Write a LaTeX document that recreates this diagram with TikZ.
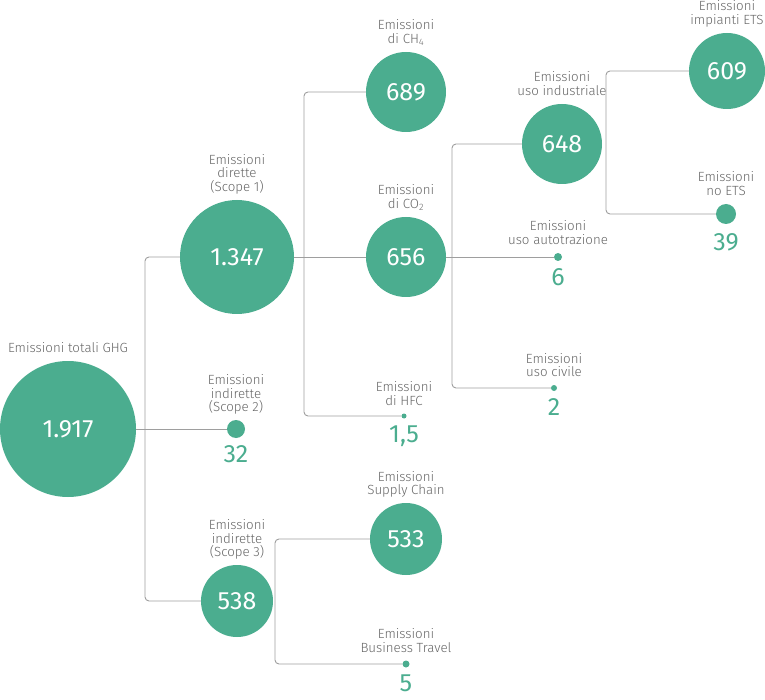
\documentclass[tikz,border=0pt]{standalone}
\usepackage{fontspec}
\setmainfont{Fira Sans Light}
\newfontfamily\valfont{Fira Sans}
\usepackage{tikz}
\usetikzlibrary{positioning}
\definecolor{emgreen}{HTML}{4BAD8F}
\definecolor{emtext}{HTML}{666666}
\definecolor{emline}{HTML}{9E9E9E}

\begin{document}
\begin{tikzpicture}[x=1pt,y=-1pt,
        circ/.style={circle,fill=emgreen,text=white,inner sep=0pt,font=\valfont\fontsize{25}{25}\selectfont},
        dot/.style={circle,fill=emgreen,inner sep=0pt},
        lab/.style={align=center,text=emtext,inner sep=1pt,text depth=3pt,font=\fontsize{13.3}{13.6}\selectfont},
        val/.style={text=emgreen,inner sep=0pt,font=\valfont\fontsize{25}{25}\selectfont},
        link/.style={draw=emline,line width=0.9pt,rounded corners=4pt}
        ]
        \useasboundingbox (0,0) rectangle (765,700);

        % circles and dots
        \node[circ,minimum size=136pt] (tot)   at (68,429)  {1.917};
        \node[circ,minimum size=114pt] (dir)   at (237,257) {1.347};
        \node[dot,minimum size=18pt]   (s2)    at (236,429) {};
        \node[circ,minimum size=72pt]  (s3)    at (237,601) {538};
        \node[circ,minimum size=80pt]  (ch4)   at (406,92)  {689};
        \node[circ,minimum size=80pt]  (co2)   at (406,257) {656};
        \node[dot,minimum size=5pt]    (hfc)   at (404,416) {};
        \node[circ,minimum size=80pt]  (ind)   at (562,144) {648};
        \node[dot,minimum size=8pt]    (aut)   at (558,257) {};
        \node[dot,minimum size=6pt]    (civ)   at (554,388) {};
        \node[circ,minimum size=76pt]  (ets)   at (727,71)  {609};
        \node[dot,minimum size=20pt]   (noets) at (726,214) {};
        \node[circ,minimum size=72pt]  (sc)    at (406,539) {533};
        \node[dot,minimum size=7pt]    (bt)    at (406,664) {};

        % labels
        \node[lab,above=4pt of tot]   (totl)   {Emissioni totali GHG};
        \node[lab,above=4pt of dir]   (dirl)   {Emissioni\\dirette\\(Scope 1)};
        \node[lab,above=4pt of s2]    (s2l)    {Emissioni\\indirette\\(Scope 2)};
        \node[lab,above=4pt of s3]    (s3l)    {Emissioni\\indirette\\(Scope 3)};
        \node[lab,above=4pt of ch4]   (ch4l)   {Emissioni\\di CH\textsubscript{4}};
        \node[lab,above=4pt of co2]   (co2l)   {Emissioni\\di CO\textsubscript{2}};
        \node[lab,above=4pt of hfc]   (hfcl)   {Emissioni\\di HFC};
        \node[lab,above=4pt of ind]   (indl)   {Emissioni\\uso industriale};
        \node[lab,above=4pt of aut]   (autl)   {Emissioni\\uso autotrazione};
        \node[lab,above=4pt of civ]   (civl)   {Emissioni\\uso civile};
        \node[lab,above=4pt of ets]   (etsl)   {Emissioni\\impianti ETS};
        \node[lab,above=4pt of noets] (noetsl) {Emissioni\\no ETS};
        \node[lab,above=4pt of sc]    (scl)    {Emissioni\\Supply Chain};
        \node[lab,above=4pt of bt]    (btl)    {Emissioni\\Business Travel};

        % values under the dots
        \node[val,below=7pt of s2]    (s2v)    {32};
        \node[val,below=7pt of hfc]   (hfcv)   {1,5};
        \node[val,below=7pt of aut]   (autv)   {6};
        \node[val,below=7pt of civ]   (civv)   {2};
        \node[val,below=9pt of noets] (noetsv) {39};
        \node[val,below=7pt of bt]    (btv)    {5};

        % trunks
        \coordinate (t1) at (145,0);
        \coordinate (t2) at (304,0);
        \coordinate (t3) at (452,0);
        \coordinate (t4) at (606,0);
        \coordinate (t5) at (275,0);

        \draw[link] (dir.west) -| (t1 |- s3.west) -- (s3.west);
        \draw[link] (tot.east) -- (s2.west);
        \draw[link] (ch4.west) -| (t2 |- hfc.west) -- (hfc.west);
        \draw[link] (dir.east) -- (co2.west);
        \draw[link] (ind.west) -| (t3 |- civ.west) -- (civ.west);
        \draw[link] (co2.east) -- (aut.west);
        \draw[link] (ets.west) -| (t4 |- noets.west) -- (noets.west);
        \draw[link] (sc.west) -| (t5 |- bt.west) -- (bt.west);
\end{tikzpicture}
\end{document}
